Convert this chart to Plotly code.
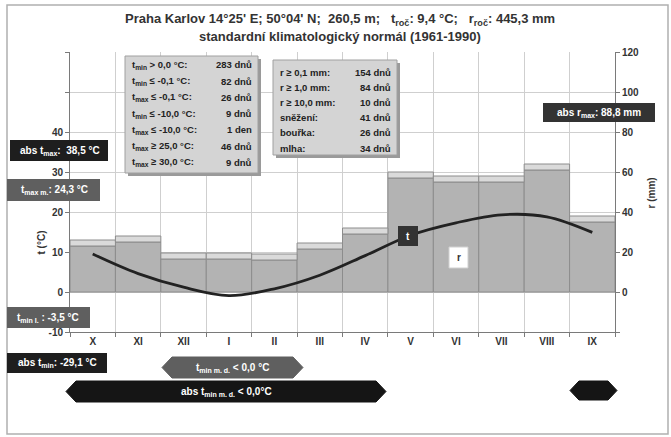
import plotly.graph_objects as go

W, H = 671, 437
L, R, T, B = 70, 615, 52, 332  # plot area in px

months = ["X", "XI", "XII", "I", "II", "III", "IV", "V", "VI", "VII", "VIII", "IX"]
temp = [9.5, 4.6, 1.2, -0.9, 0.8, 4.2, 9.1, 14.2, 17.3, 19.3, 18.8, 14.9]
precip = [26.0, 28.0, 19.5, 19.5, 19.0, 24.5, 32.0, 60.0, 58.0, 58.0, 64.0, 38.0]

t_ticks = [-10, 0, 10, 20, 30, 40, 50, 60]
t_tick_text = ["-10", "0", "10", "20", "30", "40", "", ""]
r_ticks = [-20, 0, 20, 40, 60, 80, 100, 120]
r_tick_text = ["", "0", "20", "40", "60", "80", "100", "120"]

stats_t_labels = ["t<sub>min</sub> > 0,0 °C:", "t<sub>min</sub> ≤ -0,1 °C:", "t<sub>max</sub> ≤ -0,1 °C:",
                  "t<sub>min</sub> ≤ -10,0 °C:", "t<sub>max</sub> ≤ -10,0 °C:", "t<sub>max</sub> ≥ 25,0 °C:",
                  "t<sub>max</sub> ≥ 30,0 °C:"]
stats_t_values = ["283 dnů", "82 dnů", "26 dnů", "9 dnů", "1 den", "46 dnů", "9 dnů"]
stats_r_labels = ["r ≥ 0,1 mm:", "r ≥ 1,0 mm:", "r ≥ 10,0 mm:", "sněžení:", "bouřka:", "mlha:"]
stats_r_values = ["154 dnů", "84 dnů", "10 dnů", "41 dnů", "26 dnů", "34 dnů"]

FONT = "Liberation Sans"
cap = 3.0

def px(x):
    return (x - L) / (R - L)

def py(y):
    return (B - y) / (B - T)

fig = go.Figure()

# precipitation on primary axis (right side), temperature on overlaying axis (left side)
fig.add_trace(go.Bar(
    x=months, y=[p - cap for p in precip], yaxis="y", width=1.0,
    marker=dict(color="#b3b3b3", line=dict(color="#8c8c8c", width=1)),
    showlegend=False, hoverinfo="skip"))
fig.add_trace(go.Bar(
    x=months, y=[cap] * len(precip), base=[p - cap for p in precip], yaxis="y", width=1.0,
    marker=dict(color="#dadada", line=dict(color="#8c8c8c", width=1)),
    showlegend=False, hoverinfo="skip"))
fig.add_trace(go.Scatter(
    x=months, y=temp, yaxis="y2", mode="lines", line=dict(color="#222222", width=2.8, shape="spline"),
    showlegend=False, hoverinfo="skip"))

shapes = []
annotations = []

def rect(x0, y0, x1, y1, fill, line="rgba(0,0,0,0)", lw=0):
    shapes.append(dict(type="rect", xref="paper", yref="paper", x0=px(x0), x1=px(x1),
                       y0=py(y1), y1=py(y0), fillcolor=fill, line=dict(color=line, width=lw),
                       layer="above"))

def hexa(x0, y0, x1, y1, fill, tip=10):
    ym = (y0 + y1) / 2
    pts = [(x0, ym), (x0 + tip, y0), (x1 - tip, y0), (x1, ym), (x1 - tip, y1), (x0 + tip, y1)]
    path = "M " + " L ".join(f"{px(a):.5f},{py(b):.5f}" for a, b in pts) + " Z"
    shapes.append(dict(type="path", xref="paper", yref="paper", path=path, fillcolor=fill,
                       line=dict(color=fill, width=1), layer="above"))

def text(x, y, s, color="#222", size=9, xanchor="center", bold=False):
    if bold:
        s = "<b>" + s + "</b>"
    annotations.append(dict(x=px(x), y=py(y), xref="paper", yref="paper", text=s, showarrow=False,
                            xanchor=xanchor, yanchor="middle",
                            font=dict(family=FONT, size=size, color=color)))

# outer frame
shapes.append(dict(type="rect", xref="paper", yref="paper", x0=px(7), x1=px(668), y0=py(434), y1=py(5),
                   line=dict(color="#b0b0b0", width=1.5), fillcolor="rgba(0,0,0,0)", layer="below"))

# stats box 1 (temperature)
rect(128, 59, 261, 176, "#9a9a9a")
rect(125, 56, 258, 173, "#d4d4d4", "#a0a0a0", 1)
for i, (lab, val) in enumerate(zip(stats_t_labels, stats_t_values)):
    yy = 65 + i * 16.2
    text(130, yy, lab, xanchor="left", bold=True, size=9.5)
    text(254, yy, val, xanchor="right", bold=True, size=9.5)

# stats box 2 (precipitation)
rect(276, 63, 400, 158, "#9a9a9a")
rect(273, 60, 397, 155, "#d4d4d4", "#a0a0a0", 1)
for i, (lab, val) in enumerate(zip(stats_r_labels, stats_r_values)):
    yy = 72 + i * 15.2
    text(278, yy, lab, xanchor="left", bold=True, size=9.5)
    text(393, yy, val, xanchor="right", bold=True, size=9.5)

# side labels
rect(10, 140, 108, 161, "#1e1e1e")
text(60, 150.5, "abs t<sub>max</sub>:  38,5 °C", color="white", bold=True, size=10)
rect(7, 179, 100, 201, "#5f5f5f")
text(54, 190, "t<sub>max m.</sub>: 24,3 °C", color="white", bold=True, size=10)
rect(7, 307, 90, 328, "#5f5f5f")
text(48, 317.5, "t<sub>min I.</sub> : -3,5 °C", color="white", bold=True, size=10)
rect(7, 353, 107, 373, "#1e1e1e")
text(57, 363, "abs t<sub>min</sub>: -29,1 °C", color="white", bold=True, size=10)
rect(543, 103, 655, 122, "#333333")
text(599, 112.5, "abs r<sub>max</sub>: 88,8 mm", color="white", bold=True, size=10)

# in-plot series labels
rect(398, 226, 418, 246, "#333333")
text(408, 236, "t", color="white", bold=True, size=10)
rect(449, 247, 468, 268, "#ffffff", "#d0d0d0", 1)
text(458.5, 257.5, "r", color="#333", bold=True, size=10)

# arrows
hexa(162, 357, 303, 378, "#5f5f5f")
text(232, 367.5, "t<sub>min m. d.</sub> < 0,0 °C", color="white", bold=True, size=10)
hexa(66, 381, 386, 402, "#151515")
text(226, 391.5, "abs t<sub>min m. d.</sub> < 0,0°C", color="white", bold=True, size=10)
hexa(570, 381, 617, 400, "#151515", tip=9)

# axis titles
annotations.append(dict(x=px(33), y=py(257), xref="paper", yref="paper", text="<b>t (°C)</b>",
                        showarrow=False, textangle=-90, font=dict(family=FONT, size=10, color="#333")))
annotations.append(dict(x=px(658), y=py(193), xref="paper", yref="paper", text="<b>r (mm)</b>",
                        showarrow=False, textangle=-90, font=dict(family=FONT, size=10, color="#333")))

# title
text(340, 20, "Praha Karlov 14°25' E; 50°04' N;  260,5 m;   t<sub>roč</sub>: 9,4 °C;   r<sub>roč</sub>: 445,3 mm",
     color="#333", bold=True, size=13)
text(340, 37, "standardní klimatologický normál (1961-1990)", color="#333", bold=True, size=13)

tickfont = dict(family=FONT, size=10, color="#333", weight="bold")
fig.update_layout(
    width=W, height=H, margin=dict(l=L, r=W - R, t=T, b=H - B),
    paper_bgcolor="white", plot_bgcolor="white", barmode="overlay",
    font=dict(family=FONT, size=9, color="#333"),
    xaxis=dict(type="category", categoryorder="array", categoryarray=months, range=[-0.5, 11.5],
               tickson="boundaries", showgrid=True, gridcolor="#cfcfcf", showline=True,
               linecolor="#7a7a7a", ticks="outside", ticklen=4, tickcolor="#7a7a7a",
               tickfont=tickfont, fixedrange=True),
    yaxis=dict(range=[-20, 120], tickvals=r_ticks, ticktext=r_tick_text, side="right",
               showgrid=True, gridcolor="#cfcfcf", zeroline=False, showline=True,
               linecolor="#7a7a7a", ticks="outside", ticklen=4, tickcolor="#7a7a7a",
               tickfont=tickfont),
    yaxis2=dict(range=[-10, 60], tickvals=t_ticks, ticktext=t_tick_text, overlaying="y", side="left",
                showgrid=False, zeroline=False, showline=True, linecolor="#7a7a7a", ticks="outside",
                ticklen=4, tickcolor="#7a7a7a", tickfont=tickfont),
    shapes=shapes, annotations=annotations,
)

fig.write_html("out.html")
